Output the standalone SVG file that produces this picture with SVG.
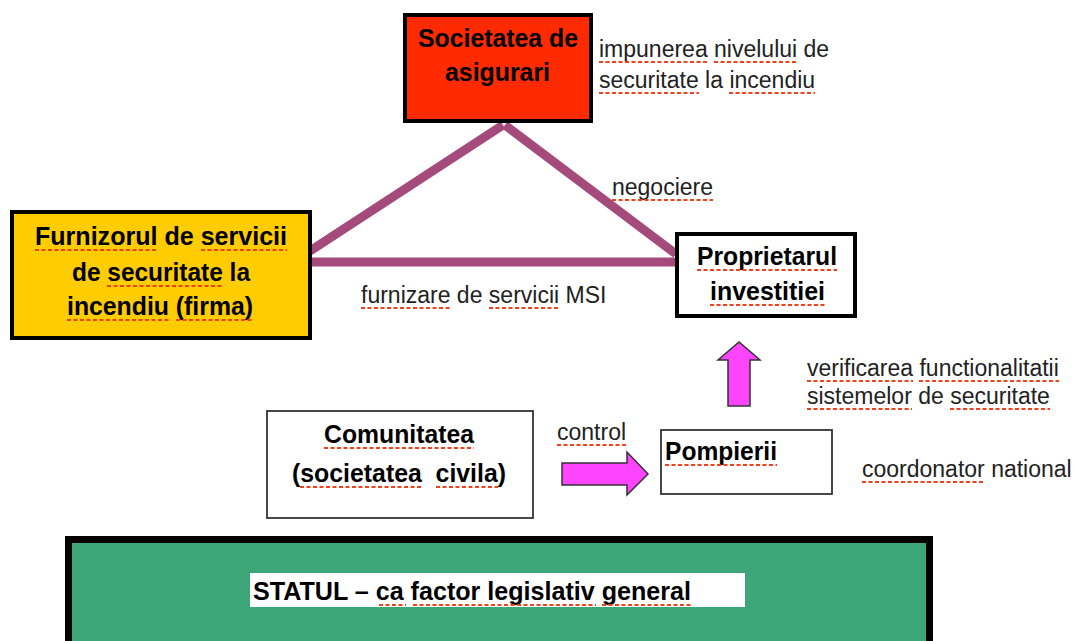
<svg xmlns="http://www.w3.org/2000/svg" width="1075" height="641" viewBox="0 0 1075 641">
<style>
.b{font-family:"Liberation Sans",Arial,sans-serif;font-weight:bold;font-size:26px;fill:#000}
.r{font-family:"Liberation Sans",Arial,sans-serif;font-size:23px;fill:#222}
.sp{stroke:#f0401c;stroke-width:2;stroke-dasharray:4 2.5;fill:none}
.thin{fill:#fff;stroke:#333;stroke-width:1.8}
.tri{stroke:#a54b7c;stroke-width:9;fill:none;stroke-linecap:butt}
.arr{fill:#ff44ff;stroke:#333;stroke-width:1.5;stroke-linejoin:miter}
</style>
<rect width="1075" height="641" fill="#fff"/>
<g id="connectors">
<line class="tri" x1="310" y1="251" x2="503" y2="125"/>
<line class="tri" x1="505" y1="125" x2="676" y2="254"/>
<line class="tri" x1="310" y1="262" x2="676" y2="262"/>
<path class="arr" d="M562,463 H627 V452 L648,474 L627,495 V485 H562 Z"/>
<path class="arr" d="M728,406 V360 H718 L739,342 L760,360 H750 V406 Z"/>
</g>
<g id="societatea">
<rect x="405" y="15" width="186" height="106" fill="#ff2a00" stroke="#000" stroke-width="4"/>
<text class="b" x="418" y="47" textLength="160" lengthAdjust="spacingAndGlyphs">Societatea de</text>
<text class="b" x="445" y="81" textLength="105" lengthAdjust="spacingAndGlyphs">asigurari</text>
</g>
<g id="impunerea-label">
<text class="r" x="599" y="57">impunerea nivelului de</text>
<text class="r" x="599" y="88">securitate la incendiu</text>
</g>
<g id="furnizorul">
<rect x="12" y="212" width="298" height="126" fill="#ffcc00" stroke="#000" stroke-width="4"/>
<text class="b" x="35" y="245" textLength="252" lengthAdjust="spacingAndGlyphs">Furnizorul de servicii</text>
<text class="b" x="72" y="281" textLength="178" lengthAdjust="spacingAndGlyphs">de securitate la</text>
<text class="b" x="67" y="315" textLength="186" lengthAdjust="spacingAndGlyphs">incendiu (firma)</text>
</g>
<g id="proprietarul">
<rect x="677" y="234" width="178" height="82" fill="#fff" stroke="#000" stroke-width="4"/>
<text class="b" x="697" y="265" textLength="140" lengthAdjust="spacingAndGlyphs">Proprietarul</text>
<text class="b" x="710" y="300" textLength="115" lengthAdjust="spacingAndGlyphs">investitiei</text>
</g>
<g id="labels">
<text class="r" x="612" y="195">negociere</text>
<text class="r" x="361" y="303">furnizare de servicii MSI</text>
<text class="r" x="557" y="440">control</text>
<text class="r" x="807" y="376">verificarea functionalitatii</text>
<text class="r" x="807" y="404">sistemelor de securitate</text>
<text class="r" x="862" y="477">coordonator national</text>
</g>
<g id="comunitatea">
<rect class="thin" x="267" y="411" width="266" height="107"/>
<text class="b" x="324" y="443" textLength="150" lengthAdjust="spacingAndGlyphs">Comunitatea</text>
<text class="b" x="292" y="482" textLength="214" lengthAdjust="spacingAndGlyphs" xml:space="preserve">(societatea  civila)</text>
</g>
<g id="pompierii">
<rect class="thin" x="661" y="430" width="171" height="64"/>
<text class="b" x="665" y="460" textLength="112" lengthAdjust="spacingAndGlyphs">Pompierii</text>
</g>
<g id="statul">
<rect x="68.5" y="539.5" width="861" height="120" fill="#3da679" stroke="#000" stroke-width="7"/>
<rect x="250" y="573" width="495" height="34" fill="#fff"/>
<text class="b" x="253" y="600" textLength="438" lengthAdjust="spacingAndGlyphs">STATUL – ca factor legislativ general</text>
</g>
<g id="spellcheck-underlines" class="sp">
<line x1="599" y1="62" x2="708" y2="62"/>
<line x1="714" y1="62" x2="797" y2="62"/>
<line x1="599" y1="93" x2="699" y2="93"/>
<line x1="729" y1="93" x2="815" y2="93"/>
<line x1="612" y1="200" x2="713" y2="200"/>
<line x1="361" y1="308" x2="450" y2="308"/>
<line x1="489" y1="308" x2="559" y2="308"/>
<line x1="557" y1="445" x2="626" y2="445"/>
<line x1="807" y1="381" x2="913" y2="381"/>
<line x1="919" y1="381" x2="1059" y2="381"/>
<line x1="807" y1="409" x2="912" y2="409"/>
<line x1="950" y1="409" x2="1050" y2="409"/>
<line x1="862" y1="482" x2="985" y2="482"/>
<line x1="35" y1="250" x2="157" y2="250"/>
<line x1="201" y1="250" x2="287" y2="250"/>
<line x1="107" y1="286" x2="223" y2="286"/>
<line x1="67" y1="320" x2="169" y2="320"/>
<line x1="176" y1="320" x2="253" y2="320"/>
<line x1="697" y1="270" x2="837" y2="270"/>
<line x1="710" y1="305" x2="825" y2="305"/>
<line x1="324" y1="448" x2="474" y2="448"/>
<line x1="300" y1="487" x2="422" y2="487"/>
<line x1="436" y1="487" x2="498" y2="487"/>
<line x1="665" y1="465" x2="777" y2="465"/>
<line x1="379" y1="605" x2="406" y2="605"/>
<line x1="413" y1="605" x2="596" y2="605"/>
<line x1="602" y1="605" x2="691" y2="605"/>
</g>
</svg>
